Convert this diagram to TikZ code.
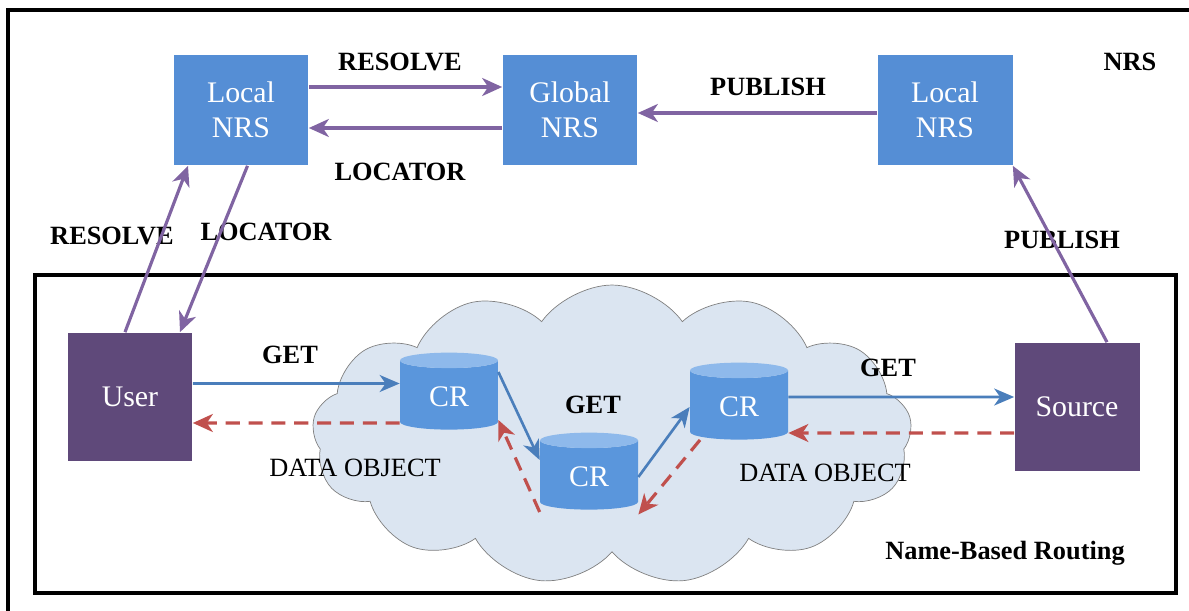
\documentclass[tikz,border=0pt]{standalone}
\usepackage{fontspec}
\setmainfont{Liberation Serif}
\usetikzlibrary{shapes.geometric,shapes.symbols,arrows.meta}
\definecolor{nrsblue}{RGB}{85,142,213}
\definecolor{hostpurple}{RGB}{95,73,122}
\definecolor{ctlpurple}{RGB}{128,100,162}
\definecolor{getblue}{RGB}{74,126,187}
\definecolor{datared}{RGB}{192,80,77}
\definecolor{cloudfill}{RGB}{219,229,241}
\definecolor{crbody}{RGB}{90,150,220}
\definecolor{crtop}{RGB}{142,185,235}
\begin{document}
\begin{tikzpicture}[x=0.02cm,y=-0.02cm,
  nrs/.style={fill=nrsblue, text=white, minimum width=2.7cm, minimum height=2.22cm, align=center, font=\fontsize{17}{20}\selectfont},
  host/.style={fill=hostpurple, text=white, minimum width=2.5cm, minimum height=2.58cm, font=\fontsize{17}{20}\selectfont},
  cr/.style={cylinder, shape border rotate=90, aspect=0.3, minimum width=1.96cm, minimum height=1.54cm, cylinder uses custom fill, cylinder body fill=crbody, cylinder end fill=crtop, text=white, font=\fontsize{17}{20}\selectfont},
  lbl/.style={font=\fontsize{15}{18}\selectfont\bfseries},
  dlbl/.style={font=\fontsize{15}{18}\selectfont},
  ctl/.style={draw=ctlpurple, line width=1.8pt, -{Stealth[length=4mm,width=3.6mm,inset=1.2mm]}},
  get/.style={draw=getblue, line width=1.5pt, -{Stealth[length=4mm,width=3.4mm,inset=1.2mm]}},
  data/.style={draw=datared, line width=1.8pt, dash pattern=on 8pt off 5pt, -{Stealth[length=4mm,width=3.6mm,inset=1.2mm]}}]
\useasboundingbox (0,0) rectangle (1189,611);
\draw[line width=2pt] (8,611) -- (8,10) -- (1189,10);
\draw[line width=2pt] (35,275) rectangle (1176,593);

\node[cloud, cloud puffs=13, cloud puff arc=110, draw=gray, fill=cloudfill, minimum width=12cm, minimum height=6cm] (cloud) at (612,435) {};

\node[nrs] (lnrsa) at (241,110) {Local\\NRS};
\node[nrs] (gnrs) at (570,110) {Global\\NRS};
\node[nrs] (lnrsb) at (945,110) {Local\\NRS};
\node[host] (user) at (130,397) {User};
\node[host] (source) at (1077,407) {Source};
\node[cr] (cra) at (449,397) {CR};
\node[cr] (crb) at (589,477) {CR};
\node[cr] (crc) at (739,407) {CR};

\node[lbl] (nrslbl) at (1130,62) {NRS};
\node[lbl] (resa) at (400,62) {RESOLVE};
\node[lbl] (loca) at (400,172) {LOCATOR};
\node[lbl] (puba) at (768,87) {PUBLISH};
\node[lbl] (resb) at (112,236) {RESOLVE};
\node[lbl] (locb) at (266,232) {LOCATOR};
\node[lbl] (pubb) at (1062,240) {PUBLISH};
\node[lbl] (geta) at (290,355) {GET};
\node[lbl] (getb) at (593,405) {GET};
\node[lbl] (getc) at (888,368) {GET};
\node[dlbl] (dataa) at (355,468) {DATA OBJECT};
\node[dlbl] (datab) at (825,473) {DATA OBJECT};
\node[lbl] (nbr) at (1005,553) {Name-Based Routing};

\draw[ctl] ([yshift=4.6mm]lnrsa.east) -- ([yshift=4.6mm]gnrs.west);
\draw[ctl] ([yshift=-3.6mm]gnrs.west) -- ([yshift=-3.6mm]lnrsa.east);
\draw[ctl] ([yshift=-0.6mm]lnrsb.west) -- ([yshift=-0.6mm]gnrs.east);
\draw[ctl] ([xshift=-0.1cm]user.north) -- ([xshift=-1.06cm]lnrsa.south);
\draw[ctl] ([xshift=0.13cm]lnrsa.south) -- ([xshift=1cm]user.north);
\draw[ctl] ([xshift=0.6cm]source.north) -- (lnrsb.south east);

\draw[get] ([yshift=2.7mm]user.east) -- ([yshift=2.7mm]cra.west);
\draw[data] ([yshift=-5.2mm]cra.west) -- ([yshift=-5.2mm]user.east);
\draw[get] ([yshift=5mm]cra.east) -- ([yshift=3.4mm]crb.west);
\draw[data] ([yshift=-7mm]crb.west) -- ([yshift=-4.6mm]cra.east);
\draw[get] (crb.east) -- (crc.west);
\draw[data] ([xshift=-0.78cm]crc.south) -- ([yshift=-7.5mm]crb.east);
\draw[get] ([yshift=2mm]crc.east) -- ([yshift=2mm]source.west);
\draw[data] ([yshift=-5.2mm]source.west) -- ([yshift=-5.2mm]crc.east);
\end{tikzpicture}
\end{document}
